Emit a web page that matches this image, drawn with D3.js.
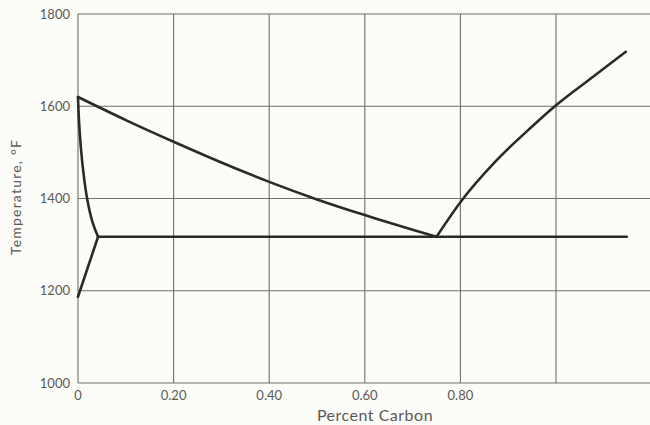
<!DOCTYPE html>
<html>
<head>
<meta charset="utf-8">
<script src="https://cdn.jsdelivr.net/npm/d3@7"></script>
<style>
  body { margin: 0; background: #fcfcf8; }
  svg { display: block; }
</style>
</head>
<body>
<svg width="650" height="425"></svg>
<script>
// tick values
const xTicks = [0, 0.2, 0.4, 0.6, 0.8, 1.0];
const xTickLabels = ["0", "0.20", "0.40", "0.60", "0.80", ""];
const yTicks = [1000, 1200, 1400, 1600, 1800];

// upper critical line A3 (percent carbon, temperature)
const a3Carbon = [0, 0.1, 0.2, 0.3, 0.4, 0.5, 0.6, 0.7, 0.75];
const a3Temp = [1620, 1570, 1523, 1478, 1436, 1398, 1364, 1332, 1317];

// Acm line
const acmCarbon = [0.75, 0.8, 0.875, 0.95, 1.0, 1.07, 1.146];
const acmTemp = [1317, 1392, 1482, 1556, 1602, 1658, 1718];

// ferrite boundary from the top
const ferCarbon = [0, 0.002, 0.006, 0.012, 0.019, 0.03, 0.042];
const ferTemp = [1620, 1570, 1510, 1450, 1400, 1350, 1317];

// ferrite solubility line below
const solCarbon = [0, 0.042];
const solTemp = [1187, 1317];

// eutectoid line
const eutCarbon = [0.042, 1.148];
const eutTemp = [1317, 1317];

var svg = d3.select("svg");

var x = d3.scaleLinear().domain([0, 1.2]).range([78, 78 + 478 * 1.2]);
var y = d3.scaleLinear().domain([1000, 1800]).range([383, 14]);

var grid = svg.append("g")
  .attr("stroke", "#6e6e6a")
  .attr("stroke-width", 1.1);

// horizontal grid lines
grid.selectAll("line.h")
  .data(yTicks)
  .enter()
  .append("line")
  .attr("class", "h")
  .attr("x1", x(0))
  .attr("x2", 650)
  .attr("y1", d => y(d))
  .attr("y2", d => y(d));

// vertical grid lines
grid.selectAll("line.v")
  .data(xTicks)
  .enter()
  .append("line")
  .attr("class", "v")
  .attr("x1", d => x(d))
  .attr("x2", d => x(d))
  .attr("y1", y(1800))
  .attr("y2", y(1000));

// tick labels
svg.append("g").selectAll("text")
  .data(yTicks)
  .enter()
  .append("text")
  .attr("x", 70)
  .attr("y", d => y(d))
  .attr("dy", "0.35em")
  .attr("text-anchor", "end")
  .attr("font-family", "Lato")
  .attr("fill", "#5a5a56")
  .style("font-size", "13px")
  .text(d => d);

svg.append("g").selectAll("text")
  .data(xTicks)
  .enter()
  .append("text")
  .attr("x", d => x(d))
  .attr("y", 400)
  .attr("text-anchor", "middle")
  .attr("font-family", "Lato")
  .attr("fill", "#5a5a56")
  .style("font-size", "13px")
  .text((d, i) => xTickLabels[i]);

// axis titles
svg.append("text")
  .attr("x", 375)
  .attr("y", 421)
  .attr("text-anchor", "middle")
  .attr("font-family", "Lato")
  .attr("fill", "#5a5a56")
  .style("font-size", "16px")
  .style("letter-spacing", "0.5px")
  .text("Percent Carbon");

svg.append("text")
  .attr("transform", "translate(21,197) rotate(-90)")
  .attr("text-anchor", "middle")
  .attr("font-family", "Lato")
  .attr("fill", "#5a5a56")
  .style("font-size", "14px")
  .style("letter-spacing", "1.2px")
  .text("Temperature, \u00b0F");

// phase lines
function drawLine(cs, ts, curve) {
  var pts = cs.map((c, i) => [c, ts[i]]);
  var line = d3.line()
    .x(d => x(d[0]))
    .y(d => y(d[1]))
    .curve(curve);
  svg.append("path")
    .attr("d", line(pts))
    .attr("fill", "none")
    .attr("stroke", "#2a2a28")
    .attr("stroke-width", 2.6)
    .attr("stroke-linejoin", "round")
    .attr("stroke-linecap", "round");
}

drawLine(eutCarbon, eutTemp, d3.curveLinear);
drawLine(a3Carbon, a3Temp, d3.curveNatural);
drawLine(acmCarbon, acmTemp, d3.curveMonotoneX);
drawLine(ferCarbon, ferTemp, d3.curveCatmullRom);
drawLine(solCarbon, solTemp, d3.curveLinear);
</script>
</body>
</html>
